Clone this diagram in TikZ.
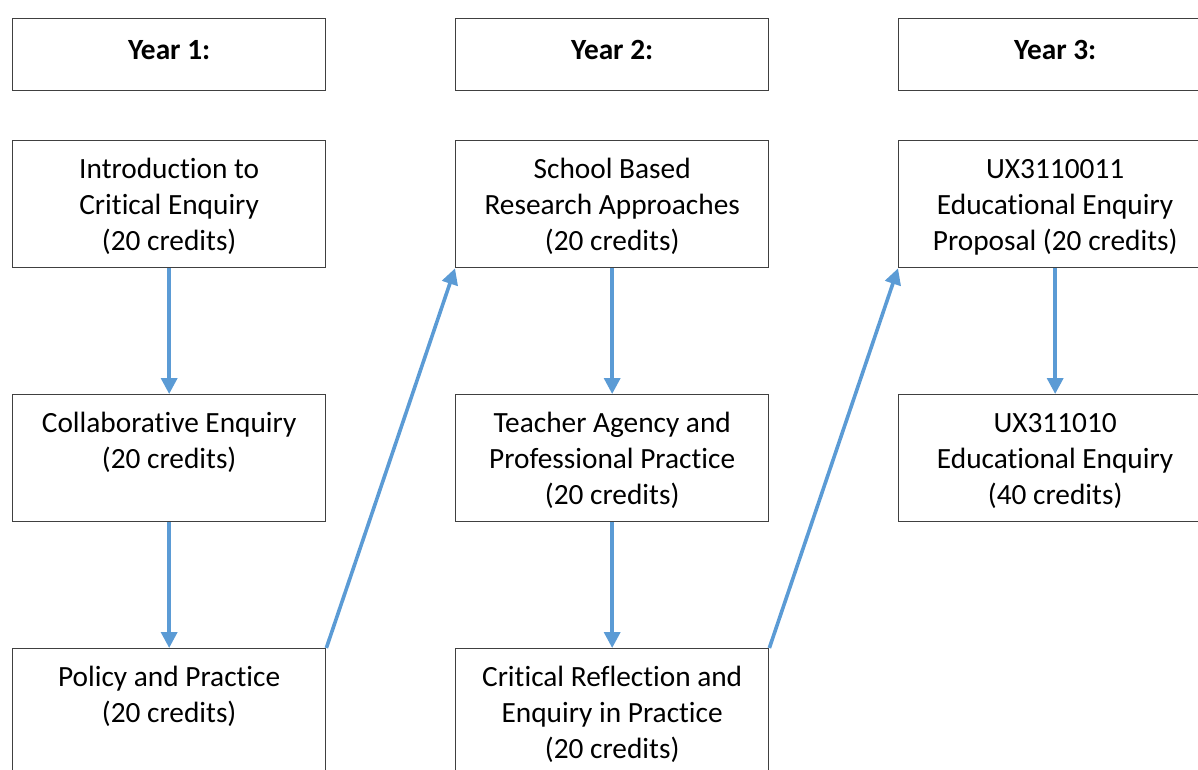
\documentclass[tikz,border=0pt]{standalone}
\usepackage{fontspec}
\setmainfont{Carlito}[Ligatures=NoCommon]
\usepackage{tikz}
\usetikzlibrary{arrows.meta}
\definecolor{flowblue}{HTML}{5B9BD5}
\newcommand{\modtext}[1]{\parbox[t][95.25pt][t]{234.75pt}{\centering\vspace*{9.5pt}\strut#1\strut}}
\newcommand{\yeartext}[1]{\parbox[t][54pt][t]{234.75pt}{\centering\vspace*{12pt}\strut\textbf{#1}\strut}}
\tikzset{
  box/.style={draw=black!75, line width=1pt, inner sep=0pt, anchor=north west,
    font=\fontsize{22}{27}\selectfont},
  flow/.style={flowblue, line width=2.7pt, -{Triangle[width=12pt,length=12pt]}}
}

\begin{document}
\begin{tikzpicture}[x=0.75pt, y=-0.75pt]
            \useasboundingbox (0,0) rectangle (1198,769);
            \clip (0,0) rectangle (1198,769);
            \node[box] (yearA) at (12,18) {\yeartext{Year 1:}};
            \node[box] (yearB) at (455,18) {\yeartext{Year 2:}};
            \node[box] (yearC) at (898,18) {\yeartext{Year 3:}};
            \node[box] (intro) at (12,140) {\modtext{Introduction to\\ Critical Enquiry\\ (20 credits)}};
            \node[box] (collab) at (12,394) {\modtext{Collaborative Enquiry\\ (20 credits)}};
            \node[box] (policy) at (12,648) {\modtext{Policy and Practice\\ (20 credits)}};
            \node[box] (school) at (455,140) {\modtext{School Based\\ Research Approaches\\ (20 credits)}};
            \node[box] (agency) at (455,394) {\modtext{Teacher Agency and\\ Professional Practice\\ (20 credits)}};
            \node[box] (reflect) at (455,648) {\modtext{Critical Reflection and\\ Enquiry in Practice\\ (20 credits)}};
            \node[box] (proposal) at (898,140) {\modtext{UX3110011\\ Educational Enquiry\\ Proposal (20 credits)}};
            \node[box] (enquiry) at (898,394) {\modtext{UX311010\\ Educational Enquiry\\ (40 credits)}};
            \draw[flow] (intro.south) -- (collab.north);
            \draw[flow] (collab.south) -- (policy.north);
            \draw[flow] (policy.north east) -- (school.south west);
            \draw[flow] (school.south) -- (agency.north);
            \draw[flow] (agency.south) -- (reflect.north);
            \draw[flow] (reflect.north east) -- (proposal.south west);
            \draw[flow] (proposal.south) -- (enquiry.north);
        \end{tikzpicture}
\end{document}
